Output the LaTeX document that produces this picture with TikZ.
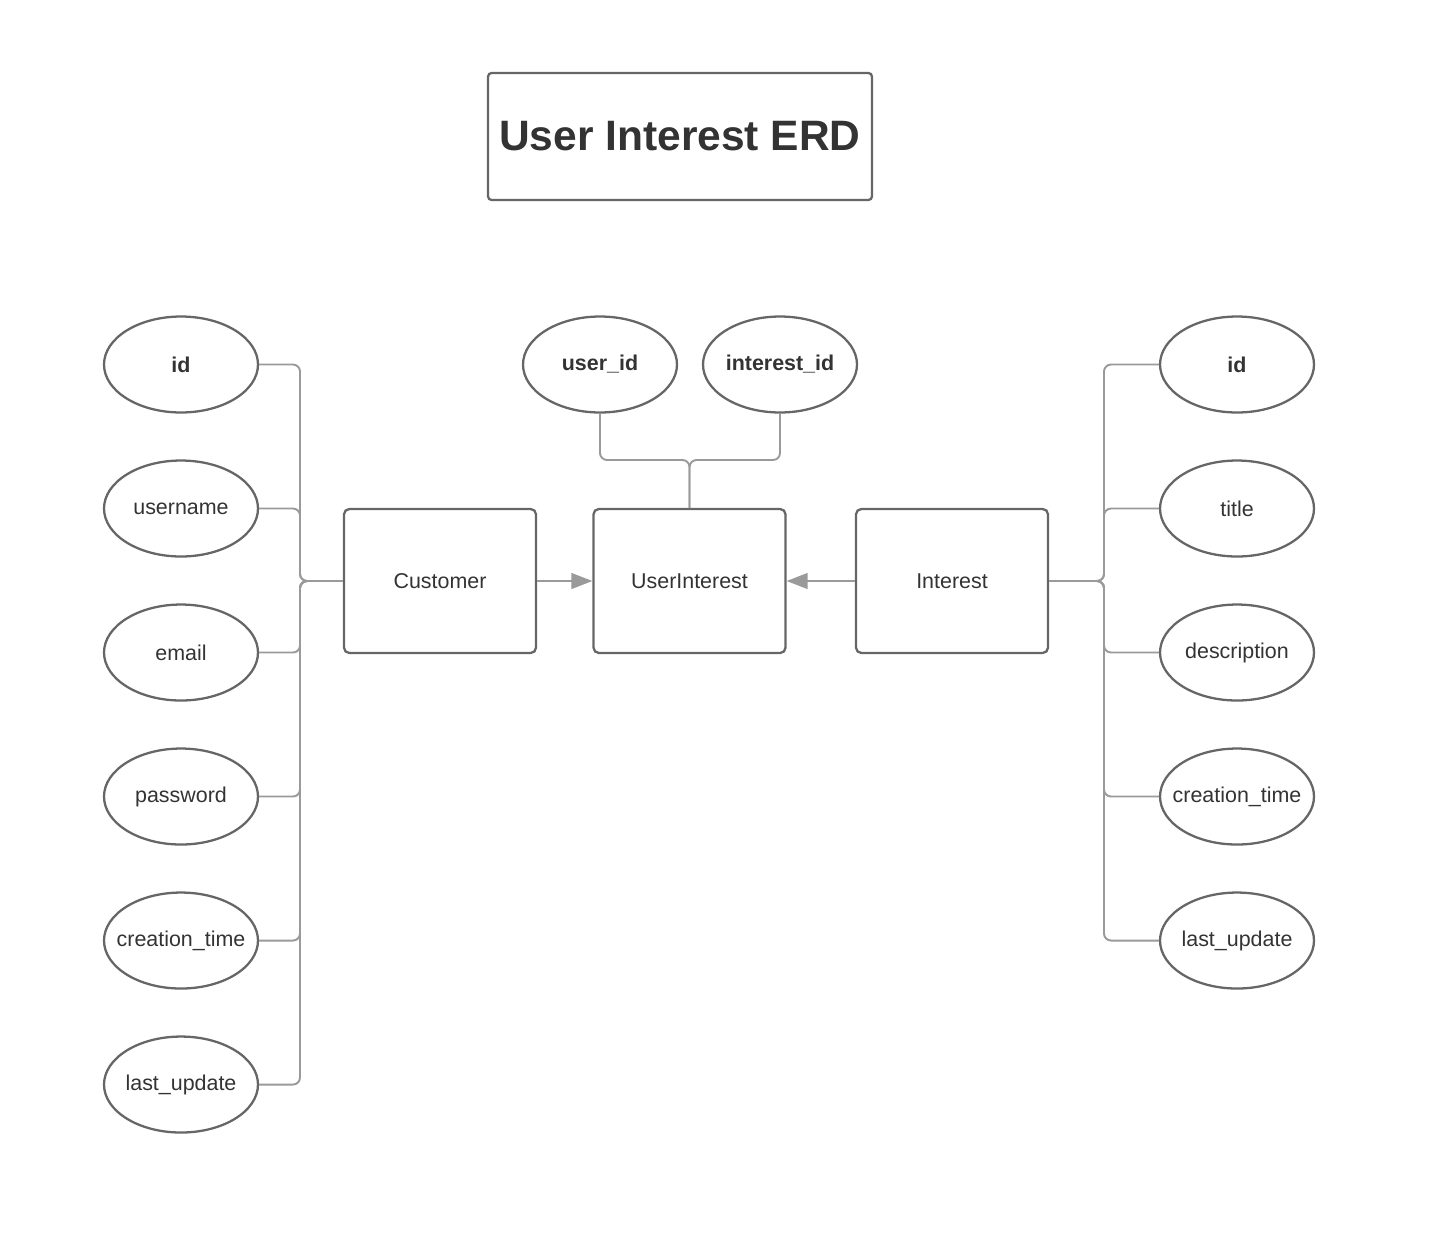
\documentclass[tikz,border=0pt]{standalone}
\usepackage{fontspec}
\setmainfont{Liberation Sans}
\usetikzlibrary{arrows.meta,positioning,shapes.geometric}
\definecolor{outline}{HTML}{666666}
\definecolor{wire}{HTML}{9A9A9A}
\definecolor{ink}{HTML}{333333}

\begin{document}
\begin{tikzpicture}[
  x=0.02cm, y=-0.02cm,
  node distance=0.915cm,
  attr/.style={ellipse, draw=outline, line width=1.3pt, inner xsep=-0.3cm, inner ysep=0pt,
    minimum width=3.08cm, minimum height=1.92cm, text=ink, font=\fontsize{12.2}{14}\selectfont},
  key/.style={attr, font=\fontsize{12.2}{14}\selectfont\bfseries},
  entity/.style={draw=outline, line width=1.3pt, rounded corners=3pt,
    minimum width=3.84cm, minimum height=2.88cm, text=ink, font=\fontsize{12.2}{14}\selectfont},
  link/.style={draw=wire, line width=1.1pt, rounded corners=4pt},
  arr/.style={draw=wire, line width=1.1pt, -{Triangle[length=12pt, width=9pt]}}
]
\useasboundingbox (0,0) rectangle (1456,1258);

% title
\node[draw=outline, line width=1.3pt, rounded corners=2pt, minimum width=7.68cm, minimum height=2.54cm,
  text=ink, font=\fontsize{24.2}{28}\selectfont\bfseries] (title) at (680,136.5) {User Interest ERD};

% entities
\node[entity] (cust) at (440,581) {Customer};
\node[entity] (ui) at (689.5,581) {UserInterest};
\node[entity] (int) at (952,581) {Interest};

% customer attributes
\node[key] (c-id) at (181,364.5) {id};
\node[attr, below=of c-id] (c-user) {username};
\node[attr, below=of c-user] (c-mail) {email};
\node[attr, below=of c-mail] (c-pass) {password};
\node[attr, below=of c-pass] (c-time) {creation\_time};
\node[attr, below=of c-time] (c-last) {last\_update};

% userinterest keys
\node[key] (u-uid) at (600,364.5) {user\_id};
\node[key] (u-iid) at (780,364.5) {interest\_id};

% interest attributes
\node[key] (i-id) at (1237,364.5) {id};
\node[attr, below=of i-id] (i-title) {title};
\node[attr, below=of i-title] (i-desc) {description};
\node[attr, below=of i-desc] (i-time) {creation\_time};
\node[attr, below=of i-time] (i-last) {last\_update};

\coordinate (cbus) at (300,581);
\coordinate (ibus) at (1104,581);
\coordinate (ujoin) at (689.5,460);

\draw[link] (cust.west) -- (cbus) |- (c-id.east);
\draw[link] (cust.west) -- (cbus) |- (c-user.east);
\draw[link] (cust.west) -- (cbus) |- (c-mail.east);
\draw[link] (cust.west) -- (cbus) |- (c-pass.east);
\draw[link] (cust.west) -- (cbus) |- (c-time.east);
\draw[link] (cust.west) -- (cbus) |- (c-last.east);

\draw[link] (int.east) -- (ibus) |- (i-id.west);
\draw[link] (int.east) -- (ibus) |- (i-title.west);
\draw[link] (int.east) -- (ibus) |- (i-desc.west);
\draw[link] (int.east) -- (ibus) |- (i-time.west);
\draw[link] (int.east) -- (ibus) |- (i-last.west);

\draw[link] (ui.north) -- (ujoin) -| (u-uid.south);
\draw[link] (ui.north) -- (ujoin) -| (u-iid.south);

\draw[arr] (cust.east) -- (ui.west);
\draw[arr] (int.west) -- (ui.east);
\end{tikzpicture}
\end{document}
